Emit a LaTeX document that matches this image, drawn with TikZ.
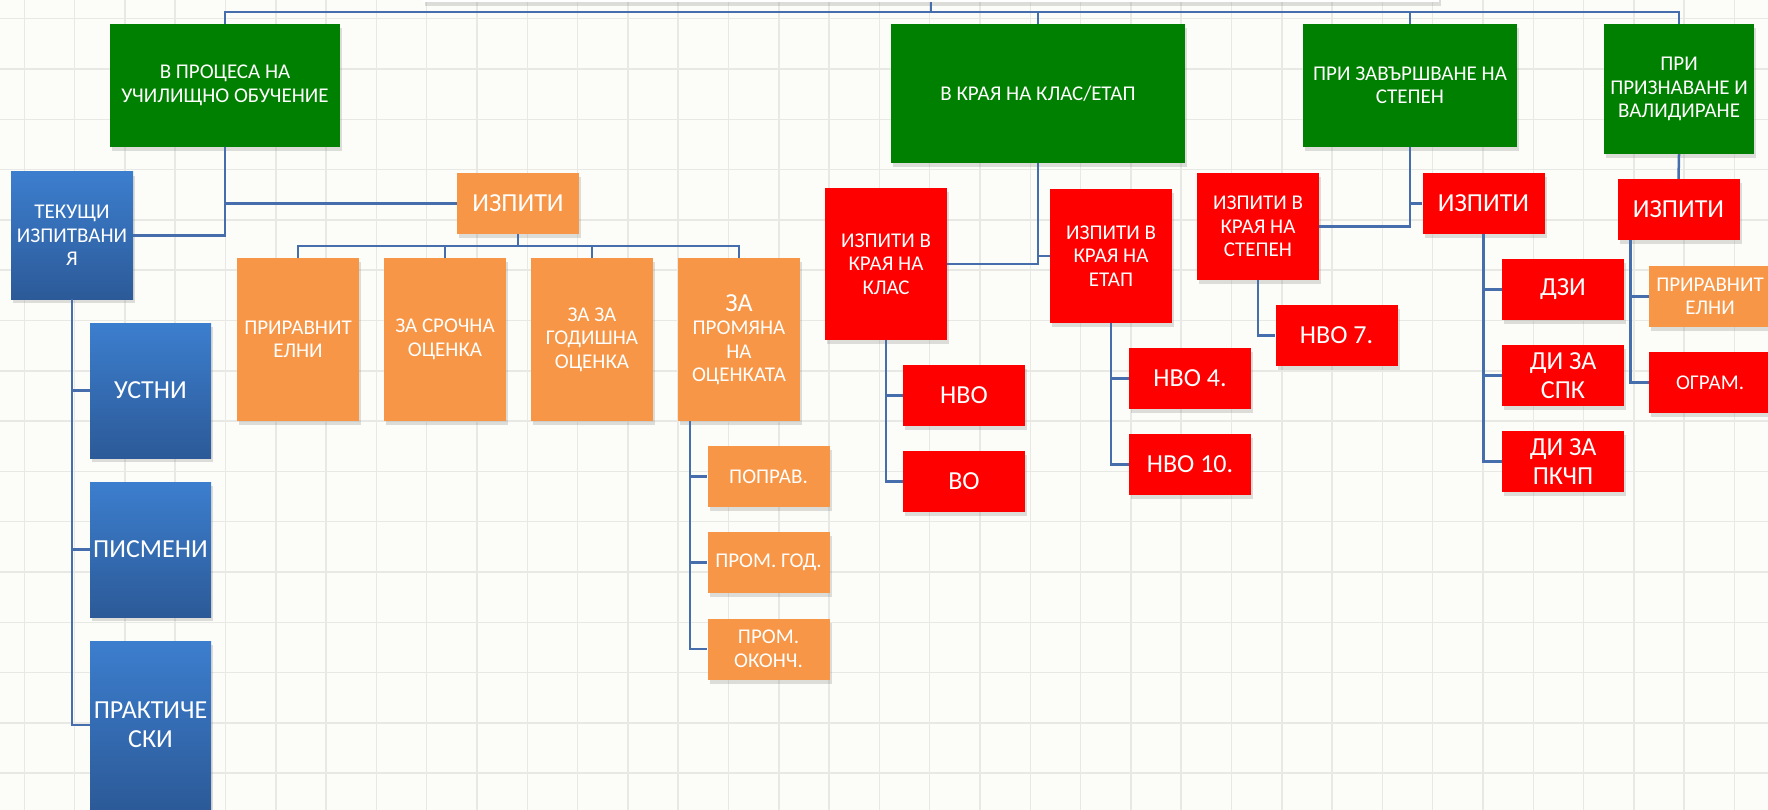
\documentclass[tikz,border=0pt]{standalone}
\usepackage{fontspec}
\setmainfont{Carlito}
\usepackage{tikz}
\usetikzlibrary{shadows}

\definecolor{boxgreen}{RGB}{0,128,0}
\definecolor{boxred}{RGB}{255,0,0}
\definecolor{boxorange}{RGB}{247,150,70}
\definecolor{bluetop}{RGB}{60,126,206}
\definecolor{bluebot}{RGB}{44,90,152}
\definecolor{linkblue}{RGB}{70,110,172}
\definecolor{paper}{RGB}{252,252,248}
\definecolor{gridgray}{RGB}{232,232,228}

\newcommand{\bigtxt}{\fontsize{26}{29}\selectfont}

\tikzstyle{boxbase} = [rectangle, inner sep=2pt, align=center, text=white, font=\fontsize{21}{23.5}\selectfont, drop shadow={opacity=0.25, shadow xshift=2pt, shadow yshift=-4pt}]
\tikzstyle{greenbox} = [boxbase, fill=boxgreen]
\tikzstyle{redbox} = [boxbase, fill=boxred]
\tikzstyle{orangebox} = [boxbase, fill=boxorange]
\tikzstyle{bluebox} = [boxbase, top color=bluetop, bottom color=bluebot]
\tikzstyle{smallbox} = [minimum width=122pt, minimum height=61pt]
\tikzstyle{link} = [draw=linkblue, line width=2.5pt]
\tikzstyle{gridline} = [draw=gridgray, line width=1.5pt]

\begin{document}
\begin{tikzpicture}[x=1pt, y=-1pt]

\useasboundingbox (0,0) rectangle (1768,810);
\clip (0,0) rectangle (1768,810);

% Paper
\fill[paper] (0,0) rectangle (1768,810);
\foreach \i in {0,...,34} \draw[gridline] (24.3+50.3*\i,0) -- ++(0,810);
\foreach \j in {0,...,15} \draw[gridline] (0,18.7+50.3*\j) -- ++(1768,0);

% Nodes
\node (topbox) [boxbase, fill=white, minimum width=1016pt, minimum height=62pt] at (931,-29) {};
\coordinate (bus) at (931,12);

\node (grpproc) [greenbox, minimum width=230pt, minimum height=123pt] at (225,85.5) {В ПРОЦЕСА НА\\УЧИЛИЩНО ОБУЧЕНИЕ};
\node (grpend) [greenbox, minimum width=294pt, minimum height=139pt] at (1038,93.5) {В КРАЯ НА КЛАС/ЕТАП};
\node (grpdeg) [greenbox, minimum width=214pt, minimum height=123pt] at (1410,85.5) {ПРИ ЗАВЪРШВАНЕ НА\\СТЕПЕН};
\node (grpval) [greenbox, minimum width=150pt, minimum height=130pt] at (1679,89) {ПРИ\\ПРИЗНАВАНЕ И\\ВАЛИДИРАНЕ};

\node (tekushti) [bluebox, minimum width=122pt, minimum height=127pt] at (72,235.5) {ТЕКУЩИ\\ИЗПИТВАНИ\\Я};
\node (ustni) [bluebox, font=\bigtxt, minimum width=121pt, minimum height=135pt] at (150.5,390.5) {УСТНИ};
\node (pismeni) [bluebox, font=\bigtxt, minimum width=121pt, minimum height=135pt] at (150.5,549.5) {ПИСМЕНИ};
\node (prakt) [bluebox, font=\bigtxt, minimum width=121pt, minimum height=168pt] at (150.5,725) {ПРАКТИЧЕ\\СКИ};

\node (izpproc) [orangebox, smallbox, font=\bigtxt] at (518,203.5) {ИЗПИТИ};
\coordinate (obus) at (518,246);
\node (prir) [orangebox, minimum width=122pt, minimum height=163pt] at (298,339.5) {ПРИРАВНИТ\\ЕЛНИ};
\node (srochna) [orangebox, minimum width=122pt, minimum height=163pt] at (445,339.5) {ЗА СРОЧНА\\ОЦЕНКА};
\node (godishna) [orangebox, minimum width=122pt, minimum height=163pt] at (592,339.5) {ЗА ЗА\\ГОДИШНА\\ОЦЕНКА};
\node (promyana) [orangebox, minimum width=122pt, minimum height=163pt] at (739,339.5) {{\bigtxt ЗА}\\ПРОМЯНА\\НА\\ОЦЕНКАТА};
\node (poprav) [orangebox, smallbox] at (768.5,476.5) {ПОПРАВ.};
\node (promgod) [orangebox, smallbox] at (768.5,562.5) {ПРОМ. ГОД.};
\node (promokonch) [orangebox, smallbox] at (768.5,649) {ПРОМ.\\ОКОНЧ.};

\node (klas) [redbox, minimum width=122pt, minimum height=152pt] at (886,264) {ИЗПИТИ В\\КРАЯ НА\\КЛАС};
\node (etap) [redbox, minimum width=122pt, minimum height=134pt] at (1111,256) {ИЗПИТИ В\\КРАЯ НА\\ЕТАП};
\node (nvo) [redbox, smallbox, font=\bigtxt] at (964,395.5) {НВО};
\node (vo) [redbox, smallbox, font=\bigtxt] at (964,481.5) {ВО};
\node (nvo4) [redbox, smallbox, font=\bigtxt] at (1190,378.5) {НВО 4.};
\node (nvo10) [redbox, smallbox, font=\bigtxt] at (1190,464.5) {НВО 10.};

\node (stepen) [redbox, minimum width=122pt, minimum height=107pt] at (1258,226.5) {ИЗПИТИ В\\КРАЯ НА\\СТЕПЕН};
\node (izpdeg) [redbox, smallbox, font=\bigtxt] at (1483.5,203.5) {ИЗПИТИ};
\node (nvo7) [redbox, smallbox, font=\bigtxt] at (1336.5,335.5) {НВО 7.};
\node (dzi) [redbox, smallbox, font=\bigtxt] at (1563,289.5) {ДЗИ};
\node (spk) [redbox, smallbox, font=\bigtxt] at (1563,375.5) {ДИ ЗА\\СПК};
\node (pkchp) [redbox, smallbox, font=\bigtxt] at (1563,461.5) {ДИ ЗА\\ПКЧП};

\node (izpval) [redbox, smallbox, font=\bigtxt] at (1678.5,209.5) {ИЗПИТИ};
\node (prirval) [orangebox, smallbox] at (1710,296.5) {ПРИРАВНИТ\\ЕЛНИ};
\node (ogram) [redbox, smallbox] at (1710,382.5) {ОГРАМ.};

% Lines
\draw [link] (topbox.south) -- (bus);
\draw [link] (grpproc.north) |- (bus) -| (grpval.north);
\draw [link] (grpend.north) |- (bus);
\draw [link] (grpdeg.north) |- (bus);

\draw [link] (grpproc.south) |- (tekushti.east);
\draw [link] (grpproc.south) |- (izpproc.west);
\draw [link] (tekushti.south) |- (ustni.west);
\draw [link] (tekushti.south) |- (pismeni.west);
\draw [link] (tekushti.south) |- (prakt.west);
\draw [link] (izpproc.south) -- (obus);
\draw [link] (prir.north) |- (obus) -| (promyana.north);
\draw [link] (srochna.north) |- (obus);
\draw [link] (godishna.north) |- (obus);
\draw [link] ([xshift=12pt]promyana.south west) |- (poprav.west);
\draw [link] ([xshift=12pt]promyana.south west) |- (promgod.west);
\draw [link] ([xshift=12pt]promyana.south west) |- (promokonch.west);

\draw [link] (grpend.south) |- (klas.east);
\draw [link] (grpend.south) |- (etap.west);
\draw [link] (klas.south) |- (nvo.west);
\draw [link] (klas.south) |- (vo.west);
\draw [link] (etap.south) |- (nvo4.west);
\draw [link] (etap.south) |- (nvo10.west);

\draw [link] (grpdeg.south) |- (stepen.east);
\draw [link] (grpdeg.south) |- (izpdeg.west);
\draw [link] (stepen.south) |- (nvo7.west);
\draw [link] (izpdeg.south) |- (dzi.west);
\draw [link] (izpdeg.south) |- (spk.west);
\draw [link] (izpdeg.south) |- (pkchp.west);

\draw [link] (grpval.south) -- (izpval.north);
\draw [link] ([xshift=13pt]izpval.south west) |- (prirval.west);
\draw [link] ([xshift=13pt]izpval.south west) |- (ogram.west);

\end{tikzpicture}
\end{document}
